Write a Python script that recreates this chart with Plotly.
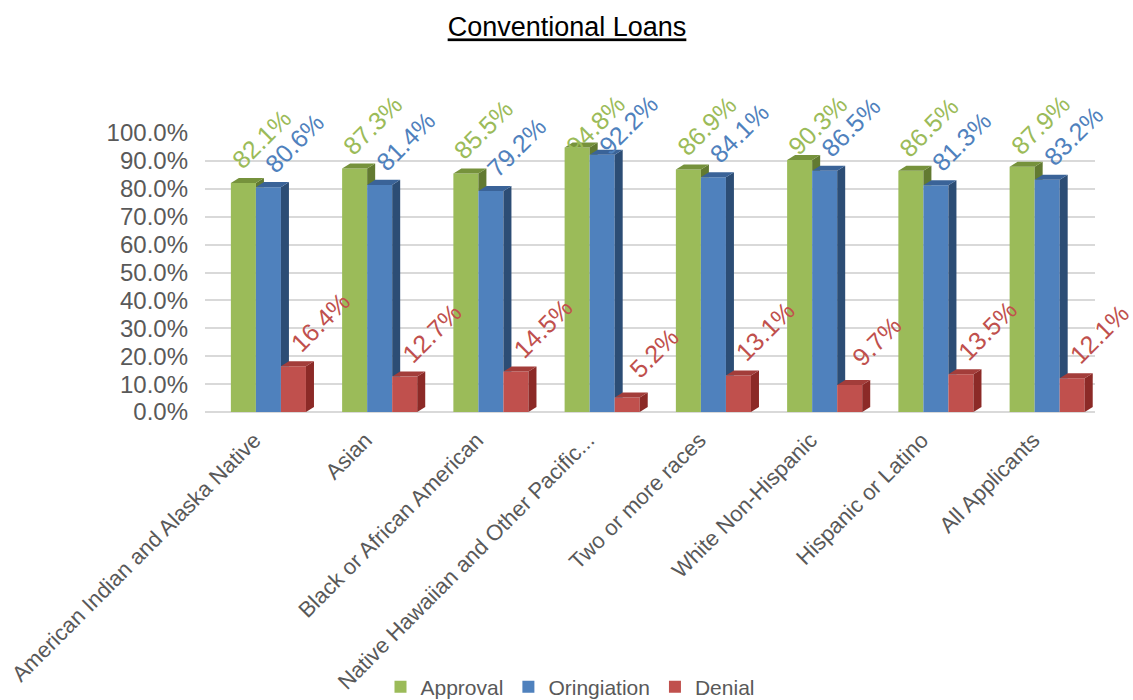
import plotly.graph_objects as go

categories = ["American Indian and Alaska Native", "Asian", "Black or African American",
              "Native Hawaiian and Other Pacific...", "Two or more races",
              "White Non-Hispanic", "Hispanic or Latino", "All Applicants"]
approval = [82.1, 87.3, 85.5, 94.8, 86.9, 90.3, 86.5, 87.9]
origination = [80.6, 81.4, 79.2, 92.2, 84.1, 86.5, 81.3, 83.2]
denial = [16.4, 12.7, 14.5, 5.2, 13.1, 9.7, 13.5, 12.1]
y_ticks = [0, 10, 20, 30, 40, 50, 60, 70, 80, 90, 100]

series = [
    ("Approval", approval, "#9BBB59", "#76923C", "#627A31"),
    ("Oringiation", origination, "#4F81BD", "#3A6398", "#2C4D75"),
    ("Denial", denial, "#C0504D", "#A33D3A", "#8C2A27"),
]

FONT = "Liberation Sans, Arial, sans-serif"
W = 0.225      # bar width in category units
DX = 0.072     # 3D depth (x, data units)
DY = 1.8       # 3D depth (y, data units)
offsets = [-W, 0.0, W]
label_xshift = [18, 26, 27]
xs = list(range(len(categories)))

PLOT_TOP, PLOT_H = 133, 279  # pixels (margin top, plot height)

fig = go.Figure()
for (name, vals, c, ctop, cside), off in zip(series, offsets):
    fig.add_trace(go.Bar(
        x=[i + off for i in xs], y=vals, width=W, name=name,
        marker=dict(color=c, line=dict(width=0)), hoverinfo="skip"))

# 3D top and side faces, computed from the data
for i in xs:
    for s, ((name, vals, c, ctop, cside), off) in enumerate(zip(series, offsets)):
        v = vals[i]
        x0 = i + off - W / 2
        x1 = i + off + W / 2
        if s < 2:
            lower = series[s + 1][1][i]
            sx = [x1, x1 + DX, x1 + DX, x1, x1]
            sy = [lower, lower, v + DY, v, lower]
        else:
            sx = [x1, x1 + DX, x1 + DX, x1, x1]
            sy = [0, DY, v + DY, v, 0]
        fig.add_trace(go.Scatter(x=sx, y=sy, fill="toself", fillcolor=cside, mode="lines",
                                 line=dict(width=0, color=cside), showlegend=False,
                                 hoverinfo="skip"))
        tx = [x0, x1, x1 + DX, x0 + DX, x0]
        ty = [v, v, v + DY, v + DY, v]
        fig.add_trace(go.Scatter(x=tx, y=ty, fill="toself", fillcolor=ctop, mode="lines",
                                 line=dict(width=0, color=ctop), showlegend=False,
                                 hoverinfo="skip"))

annotations = []
for (name, vals, c, ctop, cside), off, xsh in zip(series, offsets, label_xshift):
    for i, v in zip(xs, vals):
        # labels are kept inside the chart area (pushed down near the top)
        top_px = PLOT_TOP + PLOT_H * (1 - v / 100)
        ysh = min(44, top_px - 125)
        annotations.append(dict(
            x=i + off, y=v, xref="x", yref="y", text=f"{v:.1f}%",
            showarrow=False, textangle=-45, xanchor="center", yanchor="middle",
            xshift=xsh, yshift=ysh,
            font=dict(family=FONT, size=25, color=c)))

fig.update_layout(
    width=1133, height=700,
    paper_bgcolor="white", plot_bgcolor="white",
    margin=dict(l=205, r=38, t=PLOT_TOP, b=700 - PLOT_TOP - PLOT_H, autoexpand=False),
    title=dict(text="<u>Conventional Loans</u>", x=567 / 1133, xanchor="center",
               y=1 - 27 / 700, yanchor="middle",
               font=dict(family=FONT, size=27, color="#000000")),
    barmode="overlay",
    showlegend=True,
    legend=dict(orientation="h", xref="container", x=570 / 1133, xanchor="center",
                yref="container", y=(700 - 687) / 700, yanchor="middle",
                font=dict(family=FONT, size=21, color="#595959"),
                traceorder="normal"),
    annotations=annotations,
    font=dict(family=FONT, color="#595959"),
)
fig.update_xaxes(
    tickmode="array", tickvals=xs, ticktext=categories, tickangle=-45,
    range=[-0.57, 7.43], showgrid=False, zeroline=False, showline=False,
    automargin=False, ticklabelstandoff=10, ticklabelshift=-14,
    tickfont=dict(family=FONT, size=22, color="#595959"),
)
fig.update_yaxes(
    range=[0, 100], tickmode="array", tickvals=y_ticks,
    ticktext=[f"{t:.1f}%" for t in y_ticks],
    showgrid=True, gridcolor="#D9D9D9", gridwidth=2, zeroline=True,
    zerolinecolor="#D9D9D9", zerolinewidth=2, showline=False,
    ticklabelstandoff=16, automargin=False,
    tickfont=dict(family=FONT, size=24, color="#595959"),
)

fig.write_html("out.html")
